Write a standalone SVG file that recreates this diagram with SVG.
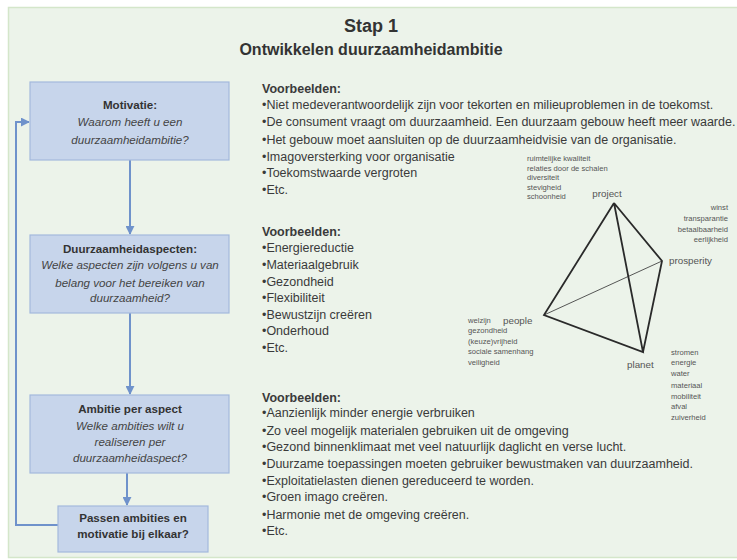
<svg xmlns="http://www.w3.org/2000/svg" width="737" height="560" viewBox="0 0 737 560">
  <style>
    .box { fill: #c7d5eb; stroke: #a3b9dd; stroke-width: 1.2; }
    .bt { font-family: "Liberation Sans", Arial, sans-serif; font-size: 11.6px; fill: #333; text-anchor: middle; }
    .b { font-weight: bold; }
    .i { font-style: italic; fill: #444; }
    .conn { fill: none; stroke: #6f92cb; stroke-width: 2; }
    .title { font-family: "Liberation Sans", Arial, sans-serif; font-weight: bold; fill: #333; text-anchor: middle; }
    .ex { font-family: "Liberation Sans", Arial, sans-serif; font-size: 12.5px; fill: #3a3a3a; }
    .exh { font-weight: bold; }
    .edge { stroke: #2a2a2a; stroke-width: 1.8; fill: none; }
    .vx { font-family: "Liberation Sans", Arial, sans-serif; font-size: 9.8px; fill: #555; }
    .sm { font-family: "Liberation Sans", Arial, sans-serif; font-size: 7.6px; fill: #555; }
  </style>
  <defs>
    <marker id="arr" viewBox="0 0 10 10" refX="9" refY="5" markerWidth="4.5" markerHeight="4.5" orient="auto">
      <path d="M0,0 L10,5 L0,10 z" fill="#6f92cb"/>
    </marker>
  </defs>

  <!-- background panel -->
  <rect x="0" y="0" width="737" height="560" fill="#ffffff"/>
  <rect x="8.5" y="7.5" width="735" height="550" fill="#ecf3ea" stroke="#d4e6ca" stroke-width="1.5"/>

  <!-- heading -->
  <g id="title">
    <text class="title" x="371" y="32" font-size="18">Stap 1</text>
    <text class="title" x="371" y="55" font-size="16">Ontwikkelen duurzaamheidambitie</text>
  </g>

  <!-- connectors -->
  <g id="connectors">
    <line class="conn" x1="130" y1="160" x2="130" y2="234" marker-end="url(#arr)"/>
    <line class="conn" x1="130" y1="313" x2="130" y2="394" marker-end="url(#arr)"/>
    <line class="conn" x1="127" y1="473" x2="127" y2="505" marker-end="url(#arr)"/>
    <polyline class="conn" points="58,525 16,525 16,122 29,122" marker-end="url(#arr)"/>
  </g>

  <!-- process steps -->
  <g id="motivatie">
    <rect class="box" x="30" y="82" width="199" height="78"/>
    <text class="bt b" x="130" y="109">Motivatie:</text>
    <text class="bt i" x="130" y="126">Waarom heeft u een</text>
    <text class="bt i" x="130" y="144">duurzaamheidambitie?</text>
  </g>
  <g id="aspecten">
    <rect class="box" x="30" y="235" width="199" height="78"/>
    <text class="bt b" x="130" y="253">Duurzaamheidaspecten:</text>
    <text class="bt i" x="130" y="269">Welke aspecten zijn volgens u van</text>
    <text class="bt i" x="130" y="287">belang voor het bereiken van</text>
    <text class="bt i" x="130" y="302">duurzaamheid?</text>
  </g>
  <g id="ambitie">
    <rect class="box" x="30" y="395" width="199" height="78"/>
    <text class="bt b" x="130" y="413">Ambitie per aspect</text>
    <text class="bt i" x="130" y="430">Welke ambities wilt u</text>
    <text class="bt i" x="130" y="446">realiseren per</text>
    <text class="bt i" x="130" y="462">duurzaamheidaspect?</text>
  </g>
  <g id="passen">
    <rect class="box" x="58" y="506" width="150" height="46"/>
    <text class="bt b" x="133" y="522">Passen ambities en</text>
    <text class="bt b" x="133" y="538">motivatie bij elkaar?</text>
  </g>

  <!-- examples per step -->
  <g id="voorbeelden-motivatie" class="ex">
    <text class="exh" x="262" y="93">Voorbeelden:</text>
    <text x="262" y="109">•Niet medeverantwoordelijk zijn voor tekorten en milieuproblemen in de toekomst.</text>
    <text x="262" y="126">•De consument vraagt om duurzaamheid. Een duurzaam gebouw heeft meer waarde.</text>
    <text x="262" y="144">•Het gebouw moet aansluiten op de duurzaamheidvisie van de organisatie.</text>
    <text x="262" y="161">•Imagoversterking voor organisatie</text>
    <text x="262" y="177">•Toekomstwaarde vergroten</text>
    <text x="262" y="194">•Etc.</text>
  </g>
  <g id="voorbeelden-aspecten" class="ex">
    <text class="exh" x="262" y="236">Voorbeelden:</text>
    <text x="262" y="252">•Energiereductie</text>
    <text x="262" y="269">•Materiaalgebruik</text>
    <text x="262" y="286">•Gezondheid</text>
    <text x="262" y="302">•Flexibiliteit</text>
    <text x="262" y="319">•Bewustzijn creëren</text>
    <text x="262" y="335">•Onderhoud</text>
    <text x="262" y="352">•Etc.</text>
  </g>
  <g id="voorbeelden-ambitie" class="ex">
    <text class="exh" x="262" y="402">Voorbeelden:</text>
    <text x="262" y="417">•Aanzienlijk minder energie verbruiken</text>
    <text x="262" y="435">•Zo veel mogelijk materialen gebruiken uit de omgeving</text>
    <text x="262" y="451">•Gezond binnenklimaat met veel natuurlijk daglicht en verse lucht.</text>
    <text x="262" y="468">•Duurzame toepassingen moeten gebruiker bewustmaken van duurzaamheid.</text>
    <text x="262" y="485">•Exploitatielasten dienen gereduceerd te worden.</text>
    <text x="262" y="501">•Groen imago creëren.</text>
    <text x="262" y="519">•Harmonie met de omgeving creëren.</text>
    <text x="262" y="535">•Etc.</text>
  </g>

  <!-- tetrahedron: project / people / planet / prosperity -->
  <g id="tetraeder">
    <line x1="544" y1="315" x2="662" y2="261" stroke="#444" stroke-width="0.9"/>
    <polyline class="edge" points="614,203 544,315 643,352 614,203 662,261 643,352"/>
    <text class="vx" x="607" y="197" text-anchor="middle">project</text>
    <text class="vx" x="669" y="264">prosperity</text>
    <text class="vx" x="503" y="324">people</text>
    <text class="vx" x="627" y="368">planet</text>
    <g class="sm">
      <text x="527" y="161">ruimtelijke kwaliteit</text>
      <text x="527" y="171">relaties door de schalen</text>
      <text x="527" y="180">diversiteit</text>
      <text x="527" y="190">stevigheid</text>
      <text x="527" y="199">schoonheid</text>
    </g>
    <g class="sm" text-anchor="end">
      <text x="728" y="210">winst</text>
      <text x="728" y="221">transparantie</text>
      <text x="728" y="232">betaalbaarheid</text>
      <text x="728" y="242">eerlijkheid</text>
    </g>
    <g class="sm">
      <text x="468" y="323">welzijn</text>
      <text x="468" y="333">gezondheid</text>
      <text x="468" y="344">(keuze)vrijheid</text>
      <text x="468" y="354">sociale samenhang</text>
      <text x="468" y="365">veiligheid</text>
    </g>
    <g class="sm">
      <text x="671" y="355">stromen</text>
      <text x="671" y="365">energie</text>
      <text x="671" y="376">water</text>
      <text x="671" y="388">materiaal</text>
      <text x="671" y="399">mobiliteit</text>
      <text x="671" y="409">afval</text>
      <text x="671" y="420">zuiverheid</text>
    </g>
  </g>
</svg>
